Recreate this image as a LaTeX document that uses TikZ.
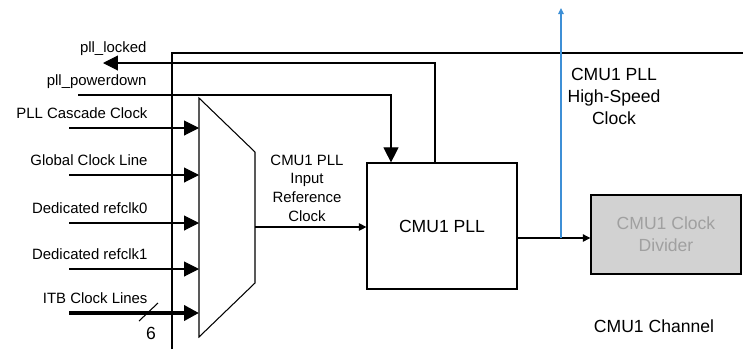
\documentclass[tikz,border=0pt]{standalone}
\usepackage{fontspec}
\setmainfont{Liberation Sans}
\usepackage{xcolor}
\usepackage{tikz}
\usetikzlibrary{arrows.meta, positioning}
\definecolor{hsblue}{RGB}{61,143,214}
\definecolor{divfill}{RGB}{210,210,210}
\definecolor{divtext}{RGB}{160,160,160}

\begin{document}
\begin{tikzpicture}[
  x=0.02cm, y=-0.02cm,
  line width=0.6pt,
  blk/.style     = {draw, line width=0.7pt, minimum width=3cm,
                    minimum height=2.52cm, align=center,
                    font=\fontsize{10}{12}\selectfont},
  divbox/.style  = {draw, line width=0.8pt, fill=divfill, text=divtext,
                    minimum width=3cm, minimum height=1.58cm, align=center,
                    font=\fontsize{10}{12.5}\selectfont},
  sig/.style     = {inner sep=0pt, font=\fontsize{8.5}{10}\selectfont},
  lbl/.style     = {align=center, inner sep=0pt},
  bigarr/.style  = {-{Triangle[length=0.3cm, width=0.3cm]}},
  smarr/.style   = {-{Triangle[length=0.15cm, width=0.15cm]}},
  bluearr/.style = {-{Triangle[length=0.12cm, width=0.11cm]}, hsblue}
]
\useasboundingbox (0,0) rectangle (743,349);

%% ---- channel border ----
\coordinate (chbl) at (172,349);
\coordinate (chtr) at (743,53);
\draw (chbl) |- (chtr);

%% ---- input multiplexer ----
\coordinate (muxtl) at (199,98);
\coordinate (muxout) at (255,227);
\draw (muxtl) -- (255,152) -- (255,283) -- (199,337) -- cycle;

% clock inputs
\foreach \y/\name/\txt in {128/cas/PLL Cascade Clock,
                           175/glb/Global Clock Line,
                           223/rck0/Dedicated refclk0,
                           269/rck1/Dedicated refclk1} {
  \node[sig, anchor=base east] (lab\name) at (148,\y-9.5) {\txt};
  \coordinate (in\name) at (69,\y);
  \draw[bigarr] (in\name) -- (in\name -| muxtl);
}

% ITB bus
\node[sig, anchor=base east] (labitb) at (148,303.5) {ITB Clock Lines};
\coordinate (initb) at (69,313);
\draw[bigarr, line width=0.08cm] (initb) -- (initb -| muxtl);
\coordinate (slasha) at (139,321);
\coordinate (slashb) at (158,303);
\draw (slasha) -- (slashb);
\node[font=\fontsize{10}{12}\selectfont, inner sep=0pt] (buswidth) at (151,333) {6};

%% ---- CMU1 PLL ----
\node[blk] (pll) at (442,226) {CMU1 PLL};

\draw[smarr] (muxout) -- (muxout -| pll.west);
\node[lbl, font=\fontsize{8.5}{10.6}\selectfont] (reflab) at (307,188)
  {CMU1 PLL\\Input\\Reference\\Clock};

% control signals
\node[sig, anchor=base east] (lablock) at (147,52) {pll\_locked};
\coordinate (lockx) at (435,63);
\coordinate (lockend) at (103,63);
\draw[bigarr] (lockx |- pll.north) -- (lockx) -- (lockend);

\node[sig, anchor=base east] (labpd) at (147,85) {pll\_powerdown};
\coordinate (pdstart) at (78,95);
\coordinate (pdx) at (391,95);
\draw[bigarr] (pdstart) -- (pdx) -- (pdx |- pll.north);

%% ---- clock divider and high-speed clock ----
\node[divbox] (div) at (666,234.5) {CMU1 Clock\\Divider};

\coordinate (pllout) at (517,238);
\coordinate (tap) at (561,238);
\coordinate (hstop) at (561,8);
\draw[smarr] (pllout) -- (pllout -| div.west);
\draw[bluearr] (tap) -- (hstop);
\node[lbl, font=\fontsize{10}{12.5}\selectfont] (hslab) at (614,96)
  {CMU1 PLL\\High-Speed\\Clock};

\node[lbl, font=\fontsize{10}{12}\selectfont] (chlab) at (654,326) {CMU1 Channel};
\end{tikzpicture}
\end{document}
